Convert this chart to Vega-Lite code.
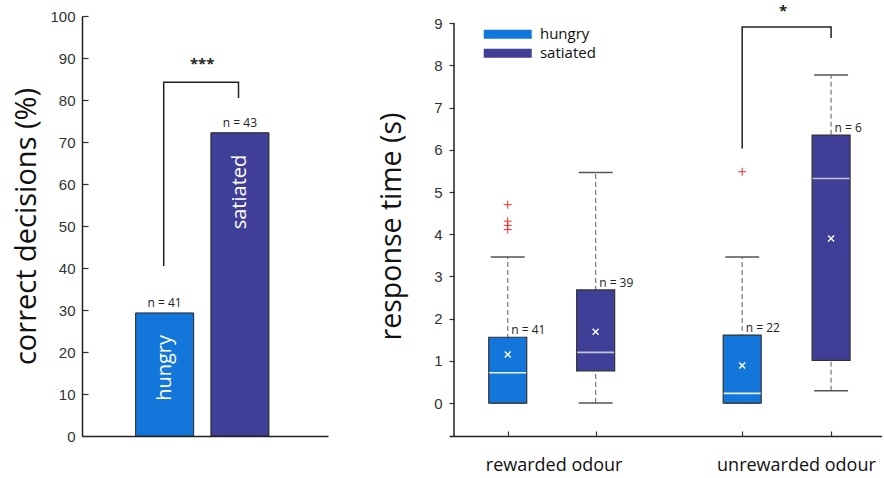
{
  "$schema": "https://vega.github.io/schema/vega-lite/v6.json",
  "padding": {"left": 12, "top": 3, "right": 0, "bottom": 5},
  "bounds": "flush",
  "spacing": 121,
  "background": "white",
  "config": {
    "view": {"stroke": null},
    "axis": {
      "grid": false,
      "domainColor": "#222",
      "domainWidth": 1.5,
      "tickColor": "#333",
      "tickWidth": 1.2,
      "labelFont": "Liberation Sans",
      "labelFontSize": 15,
      "labelColor": "#333",
      "titleFont": "Open Sans",
      "titleFontSize": 29,
      "titleFontWeight": "normal",
      "titleColor": "#111"
    }
  },
  "datasets": {
    "bars": [
      {"group": "hungry", "xc": 3.29, "pct": 29.3, "n": "n = 41"},
      {"group": "satiated", "xc": 6.48, "pct": 72.2, "n": "n = 43"}
    ],
    "bracketL": [
      {"x": 3.25, "y": 40.5, "o": 1},
      {"x": 3.25, "y": 84.2, "o": 2},
      {"x": 6.42, "y": 84.2, "o": 3},
      {"x": 6.42, "y": 80.5, "o": 4}
    ],
    "starsL": [{"x": 4.88, "y": 88.6, "t": "***"}],
    "boxes": [
      {"odour": "rewarded", "group": "hungry", "x": 0.55, "lo": 0, "q1": 0, "med": 0.72, "q3": 1.56, "hi": 3.46, "mean": 1.15, "n": "n = 41"},
      {"odour": "rewarded", "group": "satiated", "x": 1.45, "lo": 0, "q1": 0.76, "med": 1.2, "q3": 2.68, "hi": 5.46, "mean": 1.69, "n": "n = 39"},
      {"odour": "unrewarded", "group": "hungry", "x": 2.95, "lo": 0, "q1": 0, "med": 0.23, "q3": 1.61, "hi": 3.46, "mean": 0.89, "n": "n = 22"},
      {"odour": "unrewarded", "group": "satiated", "x": 3.86, "lo": 0.29, "q1": 1.01, "med": 5.32, "q3": 6.35, "hi": 7.77, "mean": 3.9, "n": "n = 6"}
    ],
    "outliers": [
      {"x": 0.55, "y": 4.7},
      {"x": 0.55, "y": 4.31},
      {"x": 0.55, "y": 4.21},
      {"x": 0.55, "y": 4.11},
      {"x": 2.95, "y": 5.48}
    ],
    "bracketR": [
      {"x": 2.95, "y": 6.03, "o": 1},
      {"x": 2.95, "y": 8.91, "o": 2},
      {"x": 3.86, "y": 8.91, "o": 3},
      {"x": 3.86, "y": 8.65, "o": 4}
    ],
    "starsR": [{"x": 3.37, "y": 9.3, "t": "*"}],
    "legend": [
      {"group": "hungry", "x": 0.55, "tx": 0.88, "y": 8.735},
      {"group": "satiated", "x": 0.55, "tx": 0.88, "y": 8.285}
    ],
    "yline": [{"x": 0, "y": -0.78, "y2": 9}]
  },
  "hconcat": [
    {
      "width": 246,
      "height": 420,
      "layer": [
        {
          "data": {"name": "bars"},
          "mark": {"type": "bar", "width": 58, "stroke": "#222", "strokeWidth": 1},
          "encoding": {
            "x": {"field": "xc", "type": "quantitative", "scale": {"domain": [0, 10], "nice": false, "zero": false},
                  "axis": {"ticks": false, "labels": false, "title": null, "domain": true}},
            "y": {"field": "pct", "type": "quantitative", "scale": {"domain": [0, 100], "nice": false},
                  "axis": {"values": [0, 10, 20, 30, 40, 50, 60, 70, 80, 90, 100], "tickSize": -6, "labelPadding": 13, "title": "correct decisions (%)", "titlePadding": 8}},
            "y2": {"datum": 0},
            "color": {"field": "group", "type": "nominal", "scale": {"domain": ["hungry", "satiated"], "range": ["#1376DB", "#3F3F98"]}, "legend": null}
          }
        },
        {
          "data": {"name": "bars"},
          "mark": {"type": "text", "baseline": "middle", "dy": -10, "font": "Open Sans", "fontSize": 12, "color": "#222"},
          "encoding": {
            "x": {"field": "xc", "type": "quantitative"},
            "y": {"field": "pct", "type": "quantitative"},
            "text": {"field": "n"}
          }
        },
        {
          "data": {"name": "bars"},
          "mark": {"type": "text", "angle": 270, "align": "right", "baseline": "middle", "dx": -22, "font": "Open Sans", "fontSize": 20, "color": "white"},
          "encoding": {
            "x": {"field": "xc", "type": "quantitative"},
            "y": {"field": "pct", "type": "quantitative"},
            "text": {"field": "group"}
          }
        },
        {
          "data": {"name": "bracketL"},
          "mark": {"type": "line", "color": "#222", "strokeWidth": 1.5},
          "encoding": {
            "x": {"field": "x", "type": "quantitative"},
            "y": {"field": "y", "type": "quantitative"},
            "order": {"field": "o"}
          }
        },
        {
          "data": {"name": "starsL"},
          "mark": {"type": "text", "baseline": "middle", "font": "Open Sans", "fontSize": 15, "fontWeight": "bold", "color": "#222"},
          "encoding": {
            "x": {"field": "x", "type": "quantitative"},
            "y": {"field": "y", "type": "quantitative"},
            "text": {"field": "t"}
          }
        }
      ]
    },
    {
      "width": 433,
      "height": 420,
      "layer": [
        {
          "data": {"name": "yline"},
          "mark": {"type": "rule", "color": "#222", "strokeWidth": 1.5},
          "encoding": {
            "x": {"field": "x", "type": "quantitative", "scale": {"domain": [0, 4.33], "nice": false, "zero": false},
                  "axis": {"values": [0.55, 1.02, 1.45, 2.95, 3.5, 3.86], "tickSize": -5,
                           "tickOpacity": {"condition": {"test": "datum.value == 1.02 || datum.value == 3.5", "value": 0}, "value": 1},
                           "labelExpr": "datum.value == 1.02 ? 'rewarded odour' : (datum.value == 3.5 ? 'unrewarded odour' : '')",
                           "labelFont": "Open Sans", "labelFontSize": 18, "labelColor": "#111", "labelPadding": 25,
                           "labelOverlap": false, "labelFlush": false, "title": null}},
            "y": {"field": "y", "type": "quantitative", "scale": {"domain": [-0.78, 9.17], "nice": false, "zero": false},
                  "axis": {"values": [0, 1, 2, 3, 4, 5, 6, 7, 8, 9], "tickSize": -5, "labelPadding": 12, "domain": false, "title": "response time (s)", "titleFontSize": 28.5, "titlePadding": 27}},
            "y2": {"field": "y2"}
          }
        },
        {
          "data": {"name": "boxes"},
          "mark": {"type": "rule", "color": "#777", "strokeWidth": 1.2, "strokeDash": [5, 3]},
          "encoding": {
            "x": {"field": "x", "type": "quantitative"},
            "y": {"field": "lo", "type": "quantitative"},
            "y2": {"field": "hi"}
          }
        },
        {
          "data": {"name": "boxes"},
          "mark": {"type": "tick", "orient": "horizontal", "size": 34, "thickness": 1.5, "color": "#555", "opacity": 1},
          "encoding": {
            "x": {"field": "x", "type": "quantitative"},
            "y": {"field": "hi", "type": "quantitative"}
          }
        },
        {
          "data": {"name": "boxes"},
          "mark": {"type": "tick", "orient": "horizontal", "size": 34, "thickness": 1.5, "color": "#555", "opacity": 1},
          "encoding": {
            "x": {"field": "x", "type": "quantitative"},
            "y": {"field": "lo", "type": "quantitative"}
          }
        },
        {
          "data": {"name": "boxes"},
          "mark": {"type": "bar", "width": 38, "stroke": "#333", "strokeWidth": 1.2, "opacity": 1},
          "encoding": {
            "x": {"field": "x", "type": "quantitative"},
            "y": {"field": "q1", "type": "quantitative"},
            "y2": {"field": "q3"},
            "color": {"field": "group", "type": "nominal", "scale": {"domain": ["hungry", "satiated"], "range": ["#1376DB", "#3F3F98"]}, "legend": null}
          }
        },
        {
          "data": {"name": "boxes"},
          "mark": {"type": "tick", "orient": "horizontal", "size": 37, "thickness": 1.6, "opacity": 1},
          "encoding": {
            "x": {"field": "x", "type": "quantitative"},
            "y": {"field": "med", "type": "quantitative"},
            "color": {"condition": {"test": "datum.group == 'hungry'", "value": "#e8f0fb"}, "value": "#c4c4d4"}
          }
        },
        {
          "data": {"name": "boxes"},
          "mark": {"type": "point", "shape": "M-1,-1L1,1M1,-1L-1,1", "filled": false, "size": 36, "strokeWidth": 1.4, "color": "white", "opacity": 1},
          "encoding": {
            "x": {"field": "x", "type": "quantitative"},
            "y": {"field": "mean", "type": "quantitative"}
          }
        },
        {
          "data": {"name": "outliers"},
          "mark": {"type": "point", "shape": "M-1,0L1,0M0,-1L0,1", "filled": false, "size": 64, "strokeWidth": 1, "color": "#e83030", "opacity": 1},
          "encoding": {
            "x": {"field": "x", "type": "quantitative"},
            "y": {"field": "y", "type": "quantitative"}
          }
        },
        {
          "data": {"name": "boxes"},
          "mark": {"type": "text", "align": "left", "baseline": "middle", "dx": 3.5, "dy": -7, "font": "Open Sans", "fontSize": 12, "color": "#222"},
          "encoding": {
            "x": {"field": "x", "type": "quantitative"},
            "y": {"field": "q3", "type": "quantitative"},
            "text": {"field": "n"}
          }
        },
        {
          "data": {"name": "bracketR"},
          "mark": {"type": "line", "color": "#222", "strokeWidth": 1.5},
          "encoding": {
            "x": {"field": "x", "type": "quantitative"},
            "y": {"field": "y", "type": "quantitative"},
            "order": {"field": "o"}
          }
        },
        {
          "data": {"name": "starsR"},
          "mark": {"type": "text", "baseline": "middle", "font": "Open Sans", "fontSize": 15, "fontWeight": "bold", "color": "#222"},
          "encoding": {
            "x": {"field": "x", "type": "quantitative"},
            "y": {"field": "y", "type": "quantitative"},
            "text": {"field": "t"}
          }
        },
        {
          "data": {"name": "legend"},
          "mark": {"type": "tick", "orient": "horizontal", "size": 48, "thickness": 9, "opacity": 1},
          "encoding": {
            "x": {"field": "x", "type": "quantitative"},
            "y": {"field": "y", "type": "quantitative"},
            "color": {"field": "group", "type": "nominal", "scale": {"domain": ["hungry", "satiated"], "range": ["#1376DB", "#3F3F98"]}, "legend": null}
          }
        },
        {
          "data": {"name": "legend"},
          "mark": {"type": "text", "align": "left", "baseline": "middle", "font": "Open Sans", "fontSize": 15, "color": "#111"},
          "encoding": {
            "x": {"field": "tx", "type": "quantitative"},
            "y": {"field": "y", "type": "quantitative"},
            "text": {"field": "group"}
          }
        }
      ]
    }
  ]
}
